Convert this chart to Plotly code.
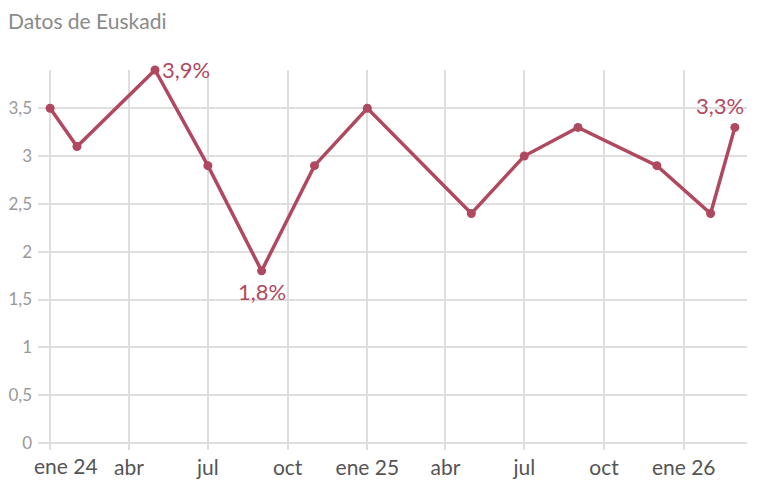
import plotly.graph_objects as go

fechas = ['2024-01-01', '2024-02-01', '2024-05-01', '2024-07-01', '2024-09-01',
          '2024-11-01', '2025-01-01', '2025-05-01', '2025-07-01', '2025-09-01',
          '2025-12-01', '2026-02-01', '2026-03-01']
tasa = [3.5, 3.1, 3.9, 2.9, 1.8, 2.9, 3.5, 2.4, 3.0, 3.3, 2.9, 2.4, 3.3]

tick_fechas = ['2024-01-01', '2024-04-01', '2024-07-01', '2024-10-01', '2025-01-01',
               '2025-04-01', '2025-07-01', '2025-10-01', '2026-01-01']
tick_textos = ['ene 24', 'abr', 'jul', 'oct', 'ene 25', 'abr', 'jul', 'oct', 'ene 26']

COLOR = '#b0495f'
GRID = '#dedede'
FONT = 'Lato'

fig = go.Figure()

fig.add_trace(
    go.Scatter(
        x=fechas,
        y=tasa,
        mode='lines+markers',
        line=dict(color=COLOR, width=3.5),
        marker=dict(color=COLOR, size=9),
        cliponaxis=False,
        hoverinfo='skip',
        showlegend=False
    )
)

# etiquetas destacadas
fig.add_annotation(x=fechas[2], y=tasa[2], text='3,9%', showarrow=False,
                   xanchor='left', xshift=5, yshift=1,
                   font=dict(family=FONT, size=22, color=COLOR))
fig.add_annotation(x=fechas[4], y=tasa[4], text='1,8%', showarrow=False,
                   yanchor='top', yshift=-5,
                   font=dict(family=FONT, size=22, color=COLOR))
fig.add_annotation(x=fechas[-1], y=tasa[-1], text='3,3%', showarrow=False,
                   yanchor='bottom', xshift=-15, yshift=6,
                   font=dict(family=FONT, size=22, color=COLOR))

# primera etiqueta del eje desplazada a la derecha
fig.add_annotation(x=tick_fechas[0], y=0, yref='paper', text=tick_textos[0],
                   showarrow=False, yanchor='top', xshift=16, yshift=-8,
                   font=dict(family=FONT, size=21, color='#555555'))

# la página tiene 8 px de margen del body: se compensa en los márgenes
fig.update_layout(
    width=760,
    height=480,
    margin=dict(l=30, r=21, t=62, b=45, autoexpand=False),
    paper_bgcolor='white',
    plot_bgcolor='white',
    separators=',.',
    font=dict(family=FONT),
    title=dict(text='Datos de Euskadi', x=0, xref='container', xanchor='left',
               y=0.971, yanchor='middle',
               font=dict(family=FONT, size=21, color='#8a8a8a')),
    xaxis=dict(
        type='date',
        range=['2023-12-18', '2026-03-15'],
        tickvals=tick_fechas,
        ticktext=[''] + tick_textos[1:],
        showgrid=True,
        gridcolor=GRID,
        gridwidth=2,
        ticks='outside',
        ticklen=6,
        tickwidth=2,
        tickcolor=GRID,
        showline=False,
        zeroline=False,
        automargin=False,
        tickfont=dict(family=FONT, size=21, color='#555555')
    ),
    yaxis=dict(
        range=[0, 3.9],
        tickvals=[0, 0.5, 1, 1.5, 2, 2.5, 3, 3.5],
        showgrid=True,
        gridcolor=GRID,
        gridwidth=2,
        zeroline=True,
        zerolinecolor=GRID,
        zerolinewidth=2,
        showline=False,
        ticks='',
        ticklabelstandoff=5,
        automargin=False,
        tickfont=dict(family=FONT, size=17, color='#999999')
    )
)

fig.write_html("out.html")
